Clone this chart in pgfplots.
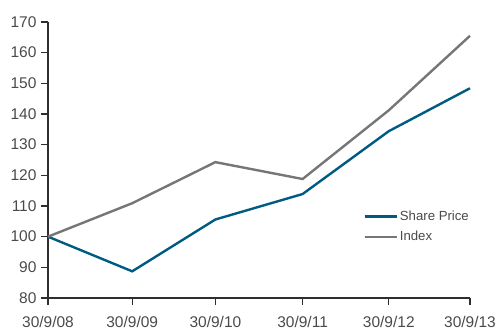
\documentclass[border=0pt]{standalone}
\usepackage{pgfplots}
\pgfplotsset{compat=1.18}
\usepackage{fontspec}
\setmainfont{Liberation Sans}
\definecolor{shareblue}{HTML}{005B82}
\definecolor{indexgray}{HTML}{767676}
\definecolor{txtgray}{HTML}{4A4A4A}
\definecolor{axgray}{HTML}{2E2E2E}
\begin{document}
\begin{tikzpicture}
\begin{axis}[
  name=ax,
  /pgf/number format/assume math mode=true,
  scale only axis,
  width=422pt, height=276pt,
  xmin=0, xmax=421,
  ymin=80, ymax=170,
  ytick={80,90,...,170},
  xtick={0,84,167,254,340,421},
  xticklabels={30/9/08,30/9/09,30/9/10,30/9/11,30/9/12,30/9/13},
  axis x line*=bottom, axis y line*=left,
  axis line style={axgray, line width=1.2pt, -},
  tick align=outside,
  major tick length=7pt,
  tick style={axgray, line width=1.2pt},
  ticklabel style={font=\fontsize{15.5}{17}\selectfont, text=txtgray},
  xticklabel style={yshift=-8pt},
  yticklabel style={xshift=-1pt},
  clip=false,
  legend style={draw=none, fill=none, at={(0.74,0.33)}, anchor=north west,
    font=\fontsize{13.2}{15}\selectfont, text=txtgray, row sep=5pt},
  legend cell align=left,
  legend image code/.code={\draw[#1, line width=2.4pt] (0pt,0pt) -- (20pt,0pt);
    \path (0pt,0pt) -- (32pt,0pt);},
]
\addplot[shareblue, line width=2.4pt] coordinates {
  (0,100) (84,88.7) (167,105.6) (254,113.9) (340,134.4) (421,148.4)
};
\addlegendentry{Share Price}
\addplot[indexgray, line width=2.4pt] coordinates {
  (0,100) (84,110.9) (167,124.3) (254,118.8) (340,141.2) (421,165.5)
};
\addlegendentry{Index}
\end{axis}
\path (ax.south west) ++(-48pt,-33pt);
\path (ax.north east) ++(31pt,22pt);
\end{tikzpicture}
\end{document}
